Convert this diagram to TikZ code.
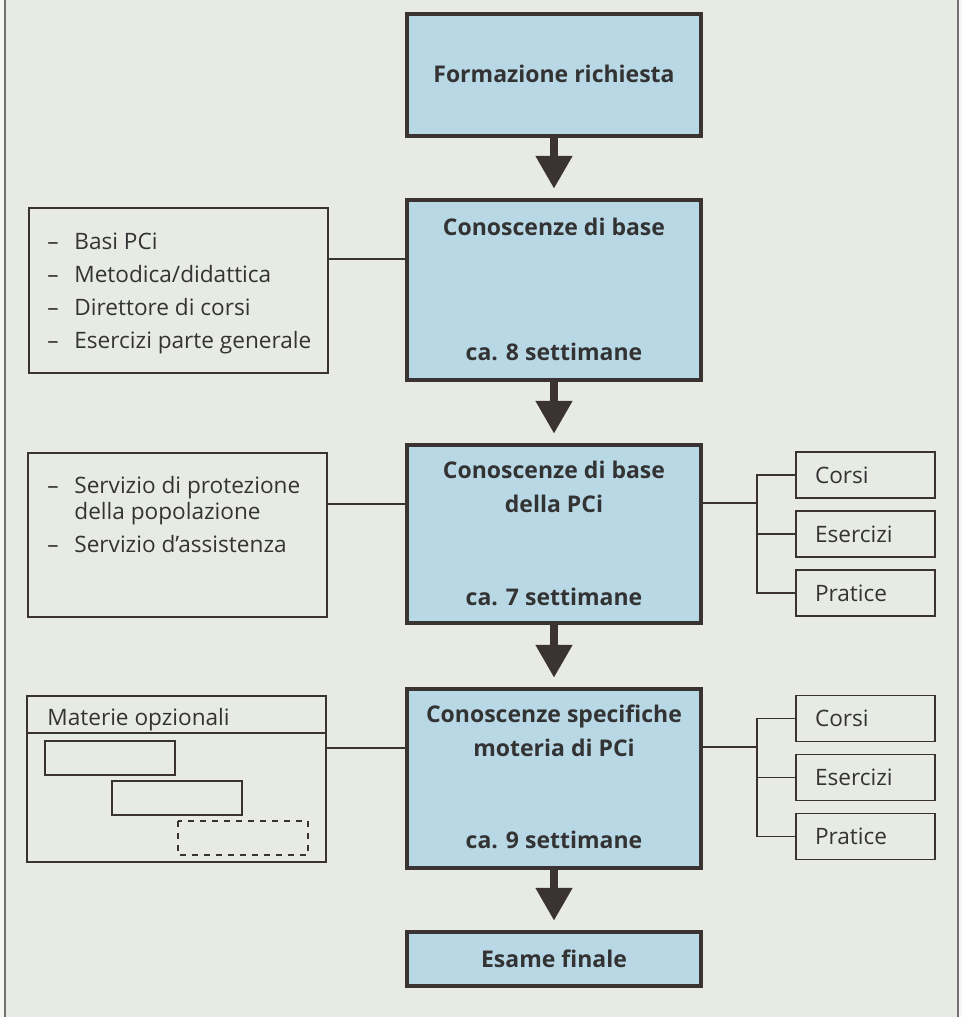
\documentclass[tikz,border=0pt]{standalone}
\usepackage{fontspec}
\setmainfont{Open Sans}
\usetikzlibrary{arrows.meta,positioning}
\definecolor{pagebg}{HTML}{E8EBE4}
\definecolor{boxblue}{HTML}{B9D8E6}
\definecolor{ink}{HTML}{3A3331}
\definecolor{txt}{HTML}{333333}

\tikzset{
  bluebox/.style={draw=ink,line width=2.25pt,fill=boxblue,minimum width=147pt,inner sep=0pt},
  title/.style={font=\fontsize{11.5}{13}\selectfont\bfseries,text=txt,inner sep=0pt},
  thinbox/.style={draw=ink,line width=0.6pt,inner sep=0pt},
  thinline/.style={draw=ink,line width=0.6pt},
  plain/.style={font=\fontsize{11.3}{16.5}\selectfont,text=txt,inner sep=0pt},
  smallbox/.style={thinbox,minimum width=69.5pt,minimum height=23pt,text width=50.5pt,
    inner xsep=9.5pt,align=left,font=\fontsize{11.3}{13}\selectfont,text=txt},
  flow/.style={draw=ink,line width=4pt,-{Triangle[width=17.5pt,length=16.5pt]},shorten >=4.5pt}
}

\begin{document}
\begin{tikzpicture}[x=0.5pt,y=-0.5pt]
  \useasboundingbox (0,0) rectangle (962,1017);
  \fill[white!60!pagebg] (0,0) rectangle (962,1017);
  \fill[pagebg] (5,0) rectangle (958,1017);
  \draw[ink!70,line width=0.8pt] (5,0) -- (5,1017);
  \draw[ink!70,line width=0.8pt] (958,0) -- (958,1017);

  \node[bluebox,minimum height=61pt] (b1) at (554,75) {};
  \node[bluebox,minimum height=90pt] (b2) at (554,290) {};
  \node[bluebox,minimum height=89pt] (b3) at (554,534) {};
  \node[bluebox,minimum height=89.5pt] (b4) at (554,778.5) {};
  \node[bluebox,minimum height=27pt] (b5) at (554,959) {};

  \node[title,anchor=base] (t1) at (554,82) {Formazione richiesta};
  \node[title,anchor=base] (t2a) at (554,235) {Conoscenze di base};
  \node[title,anchor=base] (t2b) at (554,360) {ca. 8 settimane};
  \node[title,anchor=base] (t3a) at (554,478) {Conoscenze di base};
  \node[title,anchor=base] (t3b) at (554,512) {della PCi};
  \node[title,anchor=base] (t3c) at (554,605) {ca. 7 settimane};
  \node[title,anchor=base] (t4a) at (554,722) {Conoscenze specifiche};
  \node[title,anchor=base] (t4b) at (554,756) {moteria di PCi};
  \node[title,anchor=base] (t4c) at (554,848) {ca. 9 settimane};
  \node[title,anchor=base] (t5) at (554,967) {Esame finale};

  \draw[flow] (b1) -- (b2);
  \draw[flow] (b2) -- (b3);
  \draw[flow] (b3) -- (b4);
  \draw[flow] (b4) -- (b5);

  \node[thinbox,minimum width=149.5pt,minimum height=82.5pt] (boxA) at (178.5,290.5) {};
  \node[plain,anchor=base west] (listA) at (47,249) {\begin{tabular}[t]{@{}p{13.5pt}@{}l@{}}
    – & Basi PCi\\
    – & Metodica/didattica\\
    – & Direttore di corsi\\
    – & Esercizi parte generale
  \end{tabular}};

  \node[thinbox,minimum width=149.5pt,minimum height=82pt] (boxB) at (177.5,535) {};
  \node[plain,anchor=base west] (listB) at (47,493) {\fontsize{11.3}{13}\selectfont\begin{tabular}[t]{@{}p{13.5pt}@{}l@{}}
    – & Servizio di protezione\\
      & della popolazione\\[3.5pt]
    – & Servizio d’assistenza
  \end{tabular}};

  \node[thinbox,minimum width=149.5pt,minimum height=83pt] (boxC) at (176.5,779) {};
  \node[plain,anchor=base west] (optC) at (47,725) {Materie opzionali};
  \draw[thinline] (27,733) -- (326,733);
  \draw[thinline] (45,741) rectangle (175,775);
  \draw[thinline] (112,781) rectangle (242,815);
  \draw[thinline,dashed] (178,821) rectangle (308,855);

  \coordinate (jA) at (366,259);
  \coordinate (jB) at (366,504);
  \coordinate (jC) at (366,748);
  \draw[thinline] (boxA.east |- jA) -- (b2.west |- jA);
  \draw[thinline] (boxB.east |- jB) -- (b3.west |- jB);
  \draw[thinline] (boxC.east |- jC) -- (b4.west |- jC);

  \node[smallbox] (c1) at (865.5,475) {Corsi};
  \node[smallbox] (e1) at (865.5,534) {Esercizi};
  \node[smallbox] (p1) at (865.5,593) {Pratice};
  \node[smallbox] (c2) at (865.5,718.5) {Corsi};
  \node[smallbox] (e2) at (865.5,777.5) {Esercizi};
  \node[smallbox] (p2) at (865.5,836.5) {Pratice};

  \coordinate (fork1) at (757,503);
  \coordinate (fork2) at (757,747);
  \draw[thinline] (b3.east |- fork1) -- (fork1);
  \draw[thinline] (c1.west) -| (fork1);
  \draw[thinline] (e1.west) -| (fork1);
  \draw[thinline] (p1.west) -| (fork1);
  \draw[thinline] (b4.east |- fork2) -- (fork2);
  \draw[thinline] (c2.west) -| (fork2);
  \draw[thinline] (e2.west) -| (fork2);
  \draw[thinline] (p2.west) -| (fork2);
\end{tikzpicture}
\end{document}
